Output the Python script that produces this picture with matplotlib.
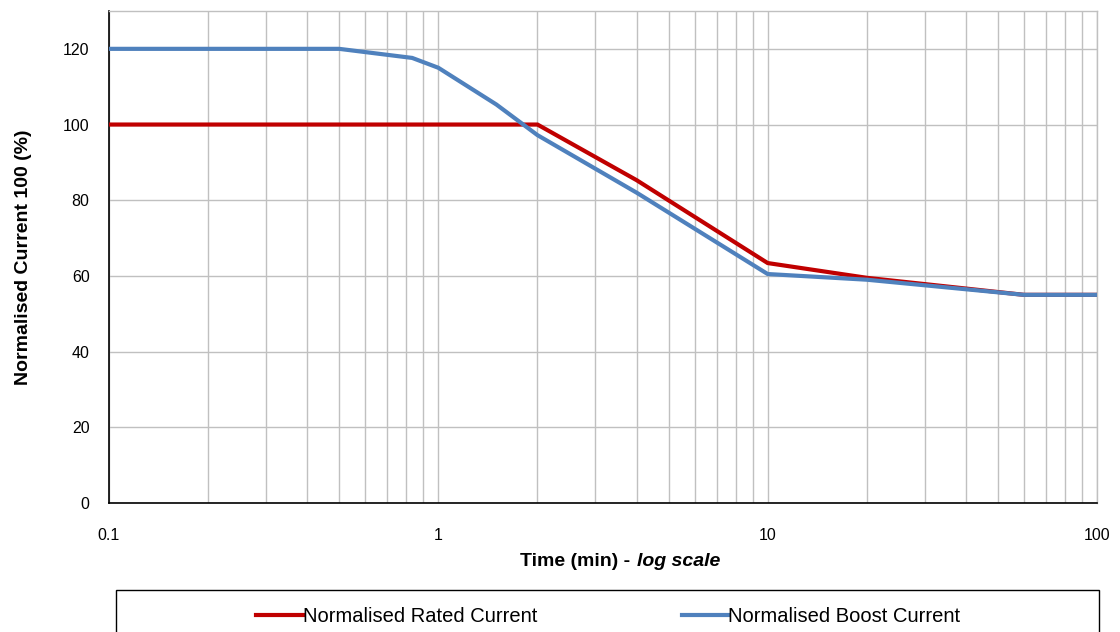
import matplotlib
matplotlib.use("Agg")
import matplotlib.pyplot as plt
from matplotlib.patches import Rectangle
from matplotlib.ticker import FixedLocator, FuncFormatter, NullFormatter

plt.rcParams['font.family'] = ['Liberation Sans', 'DejaVu Sans']

# Data (time in minutes, current in %)
rated_time = [0.1, 2, 4, 10, 20, 60, 100]
rated_current = [100, 100, 85.3, 63.4, 59.5, 55, 55]
boost_time = [0.1, 0.5, 0.833, 1, 1.5, 2, 4, 10, 20, 60, 100]
boost_current = [120, 120, 117.6, 115, 105.3, 97.2, 82, 60.5, 59, 55, 55]

series_names = ["Normalised Rated Current", "Normalised Boost Current"]
colors = ["#C00000", "#4F81BD"]

x_major = [0.1, 1, 10, 100]
x_labels = ["0.1", "1", "10", "100"]
y_ticks = [0, 20, 40, 60, 80, 100, 120]

W, H = 1120, 632
fig = plt.figure(figsize=(W / 100, H / 100), dpi=100)
ax = fig.add_axes([109/W, 1 - 503/H, (1097-109)/W, (503-11)/H])

ax.plot(rated_time, rated_current, color=colors[0], lw=3.0, label=series_names[0],
        solid_joinstyle='miter', zorder=3)
ax.plot(boost_time, boost_current, color=colors[1], lw=3.0, label=series_names[1],
        solid_joinstyle='miter', zorder=4)

ax.set_xscale('log')
ax.set_xlim(0.1, 100)
ax.set_ylim(0, 130)
ax.xaxis.set_major_locator(FixedLocator(x_major))
ax.xaxis.set_major_formatter(FuncFormatter(lambda v, p: x_labels[x_major.index(v)] if v in x_major else ""))
minors = [m * d for d in [0.1, 1, 10] for m in range(2, 10)]
ax.xaxis.set_minor_locator(FixedLocator(minors))
ax.xaxis.set_minor_formatter(NullFormatter())
ax.set_yticks(y_ticks)

ax.grid(True, which='both', axis='x', color='#C0C0C0', lw=1.0, zorder=0)
ax.grid(True, which='major', axis='y', color='#C0C0C0', lw=1.0, zorder=0)
ax.set_axisbelow(True)

for s in ['top', 'right']:
    ax.spines[s].set_color('#C0C0C0')
    ax.spines[s].set_linewidth(1.0)
for s in ['left', 'bottom']:
    ax.spines[s].set_color('black')
    ax.spines[s].set_linewidth(1.2)

ax.tick_params(axis='both', which='both', length=0, labelsize=11.5)
ax.tick_params(axis='x', pad=18)
ax.tick_params(axis='y', pad=14)

# x-axis label (bold + bold italic part)
fig.text(630/W, 1 - 566/H, "Time (min) -", fontsize=14, fontweight='bold',
         ha='right', va='baseline')
fig.text(637/W, 1 - 566/H, "log scale", fontsize=14, fontweight='bold',
         style='italic', ha='left', va='baseline')

# y-axis label
fig.text(24/W, 1 - 257/H, "Normalised Current 100 (%)", fontsize=14, fontweight='bold',
         rotation=90, ha='center', va='center')

# legend box
fig.patches.append(Rectangle((116/W, -0.05), (1099-116)/W, 0.05 + (632-590)/H,
                             transform=fig.transFigure, fill=False, edgecolor='black',
                             lw=1.0))
handles, labels = ax.get_legend_handles_labels()
fig.legend(handles, labels, loc='center', bbox_to_anchor=(608.5/W, 1 - 617/H),
           ncol=2, frameon=False, fontsize=14.5, handlelength=2.3, handletextpad=0.0,
           columnspacing=7.2, borderaxespad=0)

fig.savefig("out.png", dpi=100)
